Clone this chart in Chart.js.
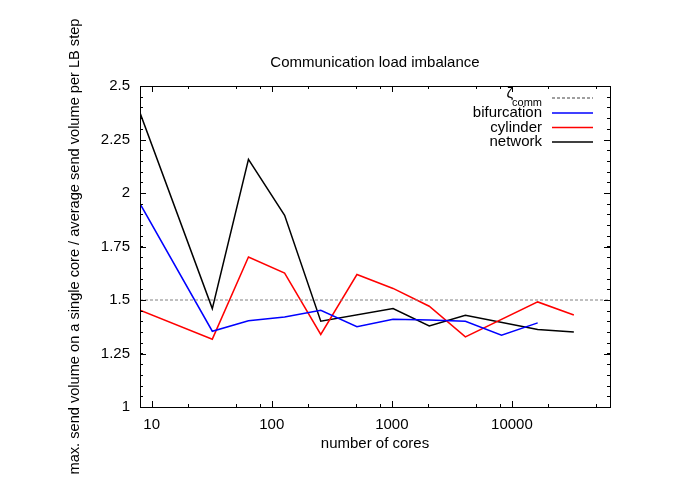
<!DOCTYPE html>
<html>
<head>
<meta charset="utf-8">
<script src="https://cdn.jsdelivr.net/npm/chart.js@4.4.0/dist/chart.umd.min.js"></script>
<style>
  html, body { margin: 0; padding: 0; background: #fff; }
  canvas { display: block; }
</style>
</head>
<body>
<canvas id="grafico" width="692" height="489"></canvas>
<script>
// numero de cores (x, log) e as tres series
const cores = [8, 32, 64, 128, 256, 512, 1024, 2048, 4096, 8192, 16384, 32768];
const bifurcation = [1.95, 1.354, 1.403, 1.421, 1.452, 1.375, 1.41, 1.406, 1.401, 1.336, 1.393, null];
const cylinder = [1.452, 1.317, 1.701, 1.626, 1.339, 1.619, 1.554, 1.471, 1.328, null, 1.491, 1.43];
const network = [2.375, 1.46, 2.157, 1.896, 1.401, null, 1.46, 1.379, 1.429, null, 1.362, 1.351];
const zetaComm = 1.5;

const xMin = 8, xMax = 65536;
const xTicks = [10, 100, 1000, 10000];
const xMinorTicks = [20, 50, 80, 200, 500, 800, 2000, 5000, 8000, 20000, 50000];
const yTicks = [1, 1.25, 1.5, 1.75, 2, 2.25, 2.5];
const yMinorStep = 0.05;

const titulo = 'Communication load imbalance';
const fonte = 'Liberation Sans, Arial, Helvetica, sans-serif';

function pontos(serie) {
    return cores.map((c, i) => ({ x: c, y: serie[i] }));
}

// titulo, legenda e caixa no estilo gnuplot
const estiloGnuplot = {
    id: 'estiloGnuplot',
    afterDraw(chart) {
        const ctx = chart.ctx;
        const a = chart.chartArea;
        const sx = chart.scales.x, sy = chart.scales.y;
        ctx.save();
        ctx.fillStyle = '#000';
        ctx.font = '15px ' + fonte;
        ctx.textAlign = 'center';
        ctx.textBaseline = 'middle';
        ctx.fillText(titulo, (a.left + a.right) / 2, a.top - 23);

        ctx.strokeStyle = '#000';
        ctx.lineWidth = 1;
        ctx.strokeRect(Math.round(a.left) + 0.5, Math.round(a.top) + 0.5,
            Math.round(a.right - a.left), Math.round(a.bottom - a.top));

        ctx.beginPath();
        function tickX(v, len) {
            const px = Math.round(sx.getPixelForValue(v)) + 0.5;
            ctx.moveTo(px, a.bottom); ctx.lineTo(px, a.bottom - len);
            ctx.moveTo(px, a.top); ctx.lineTo(px, a.top + len);
        }
        function tickY(v, len) {
            const py = Math.round(sy.getPixelForValue(v)) + 0.5;
            ctx.moveTo(a.left, py); ctx.lineTo(a.left + len, py);
            ctx.moveTo(a.right, py); ctx.lineTo(a.right - len, py);
        }
        xTicks.forEach(v => tickX(v, 6));
        xMinorTicks.forEach(v => tickX(v, 3));
        yTicks.forEach(v => tickY(v, 6));
        for (let v = 1; v < 2.5; v += yMinorStep) tickY(v, 3);
        ctx.stroke();

        // legenda
        const xt = a.right - 68;
        const x0 = a.right - 58, x1 = a.right - 17;
        const linhas = [
            { y: a.top + 12, cor: '#808080', dash: [3, 2] },
            { y: a.top + 27, cor: '#0000ff', dash: [], texto: 'bifurcation' },
            { y: a.top + 41.5, cor: '#ff0000', dash: [], texto: 'cylinder' },
            { y: a.top + 56, cor: '#000000', dash: [], texto: 'network' }
        ];
        ctx.textAlign = 'right';
        linhas.forEach(l => {
            ctx.textBaseline = 'middle';
            if (l.texto) {
                ctx.font = '15px ' + fonte;
                ctx.fillText(l.texto, xt, l.y);
            } else {
                ctx.font = '11px ' + fonte;
                ctx.textBaseline = 'alphabetic';
                const w = ctx.measureText('comm').width;
                ctx.fillText('comm', xt, l.y + 8);
                ctx.font = '15px ' + fonte;
                ctx.fillText('\u03B6', xt - w + 1, l.y);
            }
            ctx.beginPath();
            ctx.strokeStyle = l.cor;
            ctx.lineWidth = 1.5;
            ctx.setLineDash(l.dash);
            ctx.moveTo(x0, l.y); ctx.lineTo(x1, l.y);
            ctx.stroke();
            ctx.setLineDash([]);
        });
        ctx.restore();
    }
};

const configGrafico = {
    type: 'line',
    data: {
        datasets: [
            {
                label: 'comm',
                data: [{ x: xMin, y: zetaComm }, { x: xMax, y: zetaComm }],
                borderColor: '#808080',
                borderDash: [3, 2],
                borderWidth: 1
            },
            { label: 'bifurcation', data: pontos(bifurcation), borderColor: '#0000ff', borderWidth: 1.5 },
            { label: 'cylinder', data: pontos(cylinder), borderColor: '#ff0000', borderWidth: 1.5 },
            { label: 'network', data: pontos(network), borderColor: '#000000', borderWidth: 1.5 }
        ]
    },
    options: {
        responsive: false,
        animation: false,
        spanGaps: true,
        elements: { point: { radius: 0 }, line: { tension: 0 } },
        layout: { padding: { left: 0, right: 82, top: 86, bottom: 0 } },
        plugins: {
            legend: { display: false },
            tooltip: { enabled: false },
            title: { display: false }
        },
        scales: {
            x: {
                type: 'logarithmic',
                min: xMin,
                max: xMax,
                grid: { display: false, drawTicks: false },
                border: { display: false },
                afterBuildTicks: s => { s.ticks = xTicks.map(v => ({ value: v })); },
                afterFit: s => { s.height = 82; },
                ticks: {
                    color: '#000',
                    padding: 9,
                    maxRotation: 0,
                    autoSkip: false,
                    font: { family: fonte, size: 15 },
                    callback: v => String(v)
                },
                title: {
                    display: true,
                    text: 'number of cores',
                    color: '#000',
                    font: { family: fonte, size: 15 },
                    padding: { top: 0, bottom: 36 }
                }
            },
            y: {
                type: 'linear',
                min: 1,
                max: 2.5,
                grid: { display: false, drawTicks: false },
                border: { display: false },
                afterBuildTicks: s => { s.ticks = yTicks.map(v => ({ value: v })); },
                afterFit: s => { s.width = 140; },
                ticks: {
                    color: '#000',
                    padding: 10,
                    font: { family: fonte, size: 15 },
                    callback: v => String(v)
                },
                title: {
                    display: true,
                    text: 'max. send volume on a single core / average send volume per LB step',
                    color: '#000',
                    font: { family: fonte, size: 14.6 },
                    padding: { top: 66, bottom: 0 }
                }
            }
        }
    },
    plugins: [estiloGnuplot]
};

const grafico = new Chart(document.getElementById('grafico').getContext('2d'), configGrafico);
</script>
</body>
</html>
